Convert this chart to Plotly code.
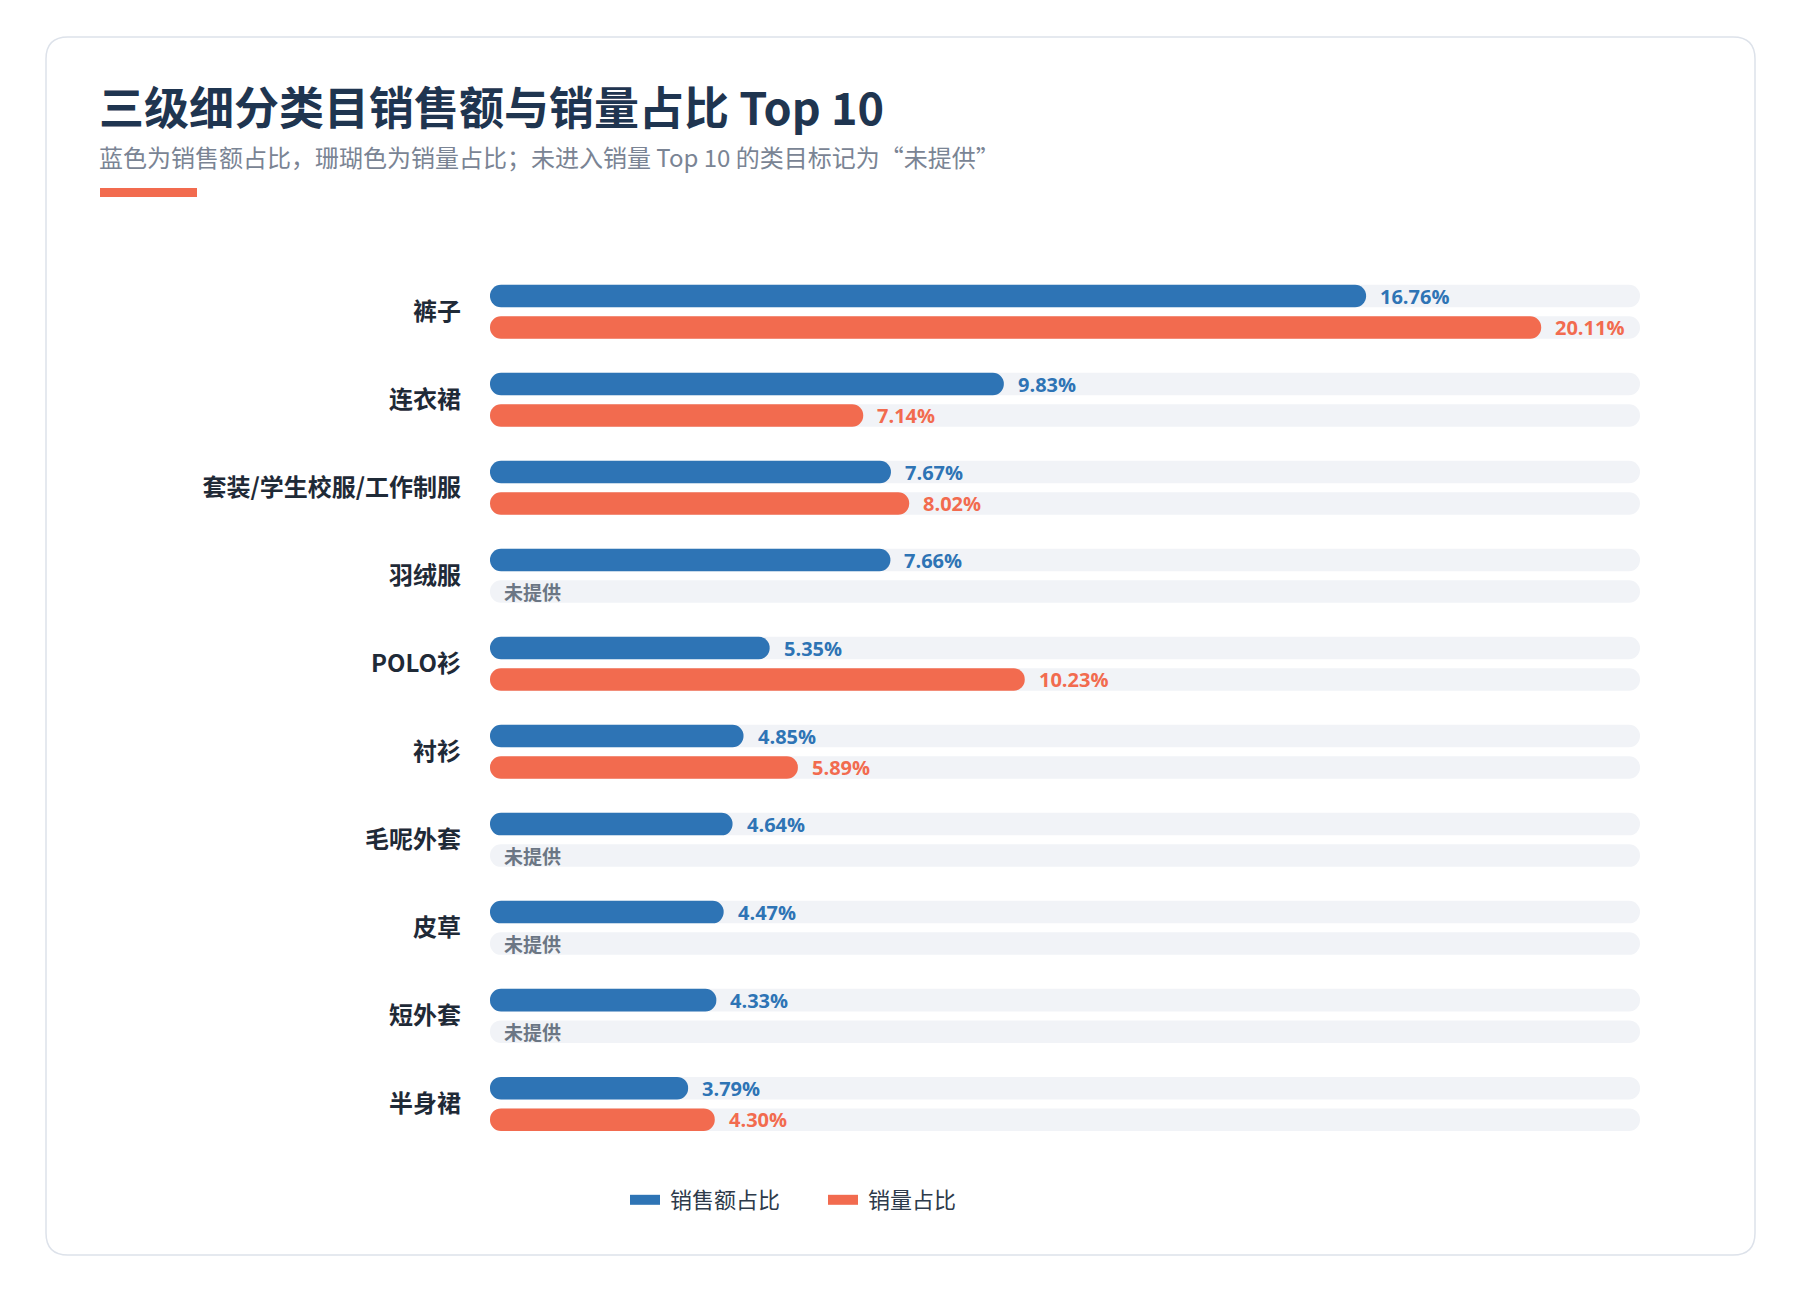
import plotly.graph_objects as go

# ---------------- data ----------------
categories = ["裤子", "连衣裙", "套装/学生校服/工作制服", "羽绒服", "POLO衫",
              "衬衫", "毛呢外套", "皮草", "短外套", "半身裙"]
sales_share = [16.76, 9.83, 7.67, 7.66, 5.35, 4.85, 4.64, 4.47, 4.33, 3.79]
volume_share = [20.11, 7.14, 8.02, None, 10.23, 5.89, None, None, None, 4.30]
series_names = ["销售额占比", "销量占比"]
missing_label = "未提供"
track_max = 22

title_text = "三级细分类目销售额与销量占比 Top 10"
subtitle_text = "蓝色为销售额占比，珊瑚色为销量占比；未进入销量 Top 10 的类目标记为“未提供”"

# ---------------- style ----------------
W, H = 1800, 1290
ML, MR, MT, MB = 490, 160, 250, 130
PW, PH = W - ML - MR, H - MT - MB
BLUE = "#2e74b5"
CORAL = "#f26b4f"
TRACK = "#f1f3f7"
GREY = "#6b7684"
DARK = "#1f2a37"
TITLE_C = "#1f3550"
SUB_C = "#7a8494"
CJK = "Noto Sans CJK SC"
NUM = "Open Sans, Noto Sans CJK SC"

GROUP_PX = 88.0
OFF = 15.75 / GROUP_PX
BAR_W = 22.5 / GROUP_PX
top_val = -(311.75 - MT) / GROUP_PX
bot_val = (len(categories) - 1) + (H - MB - 1103.9) / GROUP_PX

n = len(categories)
idx = list(range(n))
y_sales = [i - OFF for i in idx]
y_vol = [i + OFF for i in idx]


def px_x(px):
    return (px - ML) / PW


def px_y(py):
    return (H - MB - py) / PH


fig = go.Figure()

# background tracks
for ys in (y_sales, y_vol):
    fig.add_trace(go.Bar(
        orientation="h", x=[track_max] * n, y=ys, base=[0] * n, width=BAR_W,
        marker=dict(color=TRACK, cornerradius=11, line=dict(width=0)),
        showlegend=False, hoverinfo="skip"))

# data bars
fig.add_trace(go.Bar(
    orientation="h", x=sales_share, y=y_sales, base=[0] * n, width=BAR_W,
    marker=dict(color=BLUE, cornerradius=11, line=dict(width=0)),
    name=series_names[0], showlegend=False, legendgroup="s",
    hovertemplate="%{x:.2f}%<extra>" + series_names[0] + "</extra>"))
fig.add_trace(go.Bar(
    orientation="h", x=volume_share, y=y_vol, base=[0] * n, width=BAR_W,
    marker=dict(color=CORAL, cornerradius=11, line=dict(width=0)),
    name=series_names[1], showlegend=False, legendgroup="v",
    hovertemplate="%{x:.2f}%<extra>" + series_names[1] + "</extra>"))

# legend entries
for nm, col, grp in ((series_names[0], BLUE, "s"), (series_names[1], CORAL, "v")):
    fig.add_trace(go.Scatter(
        x=[None], y=[None], mode="lines", name=" " + nm, legendgroup=grp,
        line=dict(color=col, width=13)))

annotations = []
for i in idx:
    v = sales_share[i]
    annotations.append(dict(
        x=v, y=y_sales[i], xref="x", yref="y", text=f"{v:.2f}%",
        showarrow=False, xanchor="left", yanchor="middle", xshift=12,
        font=dict(family=NUM, size=20, color=BLUE, weight="bold")))
    v = volume_share[i]
    if v is None:
        annotations.append(dict(
            x=0, y=y_vol[i], xref="x", yref="y", text=missing_label,
            showarrow=False, xanchor="left", yanchor="middle", xshift=12,
            font=dict(family=CJK, size=19, color=GREY, weight="bold")))
    else:
        annotations.append(dict(
            x=v, y=y_vol[i], xref="x", yref="y", text=f"{v:.2f}%",
            showarrow=False, xanchor="left", yanchor="middle", xshift=12,
            font=dict(family=NUM, size=20, color=CORAL, weight="bold")))

annotations.append(dict(
    x=px_x(97), y=px_y(106), xref="paper", yref="paper", text=title_text,
    showarrow=False, xanchor="left", yanchor="middle",
    font=dict(family=CJK, size=45, color=TITLE_C, weight="bold")))
annotations.append(dict(
    x=px_x(97), y=px_y(157), xref="paper", yref="paper", text=subtitle_text,
    showarrow=False, xanchor="left", yanchor="middle",
    font=dict(family=CJK, size=24, color=SUB_C)))


def card_path(x0, y0, x1, y1, r):
    pts = []
    pts.append(f"M{px_x(x0 + r)},{px_y(y0)}")
    pts.append(f"L{px_x(x1 - r)},{px_y(y0)}")
    pts.append(f"Q{px_x(x1)},{px_y(y0)} {px_x(x1)},{px_y(y0 + r)}")
    pts.append(f"L{px_x(x1)},{px_y(y1 - r)}")
    pts.append(f"Q{px_x(x1)},{px_y(y1)} {px_x(x1 - r)},{px_y(y1)}")
    pts.append(f"L{px_x(x0 + r)},{px_y(y1)}")
    pts.append(f"Q{px_x(x0)},{px_y(y1)} {px_x(x0)},{px_y(y1 - r)}")
    pts.append(f"L{px_x(x0)},{px_y(y0 + r)}")
    pts.append(f"Q{px_x(x0)},{px_y(y0)} {px_x(x0 + r)},{px_y(y0)}")
    pts.append("Z")
    return " ".join(pts)


shapes = [
    dict(type="path", xref="paper", yref="paper", path=card_path(46, 37, 1755, 1255, 22),
         line=dict(color="#dde2ea", width=1.5), fillcolor="rgba(255,255,255,0)", layer="below"),
    dict(type="rect", xref="paper", yref="paper",
         x0=px_x(100), x1=px_x(197), y0=px_y(188), y1=px_y(197),
         fillcolor=CORAL, line=dict(width=0), layer="above"),
]

fig.update_layout(
    width=W, height=H,
    margin=dict(l=ML, r=MR, t=MT, b=MB, autoexpand=False),
    paper_bgcolor="white", plot_bgcolor="white",
    barmode="overlay",
    font=dict(family=CJK, color=DARK),
    xaxis=dict(range=[0, track_max], visible=False, showgrid=False, zeroline=False, fixedrange=True),
    yaxis=dict(range=[bot_val, top_val], tickvals=idx, ticktext=categories,
               showgrid=False, zeroline=False, showline=False, ticks="",
               ticklabelstandoff=28,
               tickfont=dict(family=CJK, size=24, color=DARK, weight="bold"), fixedrange=True),
    legend=dict(orientation="h", x=px_x(625), y=px_y(1200), xanchor="left", yanchor="middle",
                font=dict(family=CJK, size=22, color="#2d3a4a"), itemwidth=30,
                entrywidth=153, bgcolor="rgba(0,0,0,0)"),
    annotations=annotations,
    shapes=shapes,
    showlegend=True,
)

fig.write_html("out.html")
